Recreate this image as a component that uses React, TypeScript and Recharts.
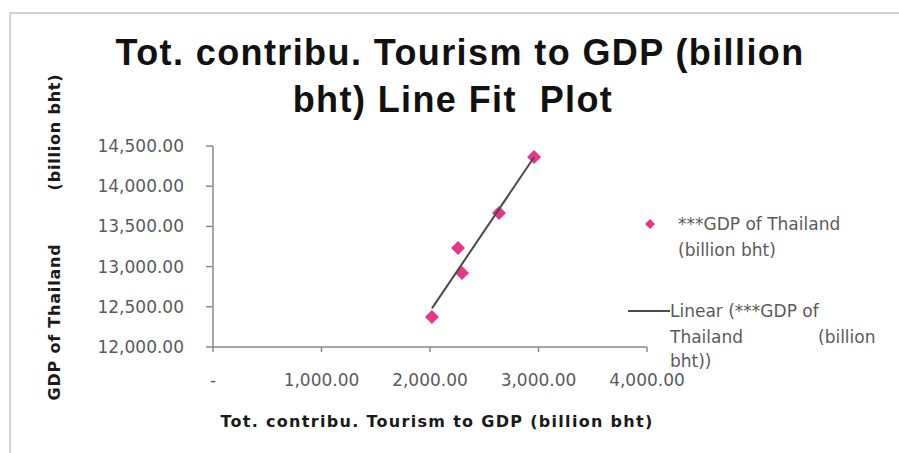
import React from "react";
import { ScatterChart, Scatter, XAxis, YAxis } from "recharts";

// Tourism contribution vs GDP, line fit plot.

const tourism = [2018, 2258, 2295, 2636, 2959];
const gdp = [12373, 13231, 12920, 13667, 14363];

// fitted line end points
const fitX = [2018, 2959];
const fitY = [12480, 14360];

const xTicks = [0, 1000, 2000, 3000, 4000];
const yTicks = [12000, 12500, 13000, 13500, 14000, 14500];

const PINK = "#E8378A";
const AXIS = "#8a8a8a";
const TEXT = "#5a5a5a";
const TICK_FONT = "DejaVu Sans";

const points = tourism.map((x, i) => ({ x, y: gdp[i] }));
const fit = fitX.map((x, i) => ({ x, y: fitY[i] }));

const fmt = (v: number) =>
  v === 0
    ? "-"
    : v.toLocaleString("en-US", {
        minimumFractionDigits: 2,
        maximumFractionDigits: 2,
      });

function Diamond(props: any) {
  const { cx, cy } = props;
  if (cx == null || cy == null) return null;
  const r = 7;
  return (
    <polygon
      points={`${cx},${cy - r} ${cx + r},${cy} ${cx},${cy + r} ${cx - r},${cy}`}
      fill={PINK}
    />
  );
}

export default function App() {
  return (
    <div
      style={{
        position: "absolute",
        left: 0,
        top: 0,
        width: 899,
        height: 453,
        background: "#fff",
        overflow: "hidden",
      }}
    >
      <div
        style={{
          position: "absolute",
          left: 9,
          top: 12,
          right: -4,
          bottom: -4,
          borderTop: "2px solid #d2d2d2",
          borderLeft: "2px solid #d2d2d2",
        }}
      />
      <ScatterChart
        width={899}
        height={453}
        margin={{ top: 146, right: 252, bottom: 46, left: 93 }}
        style={{ position: "absolute", left: 0, top: 0 }}
      >
        <XAxis
          type="number"
          dataKey="x"
          domain={[0, 4000]}
          ticks={xTicks}
          tickFormatter={fmt}
          height={60}
          stroke={AXIS}
          strokeWidth={1.5}
          tickSize={5}
          tickMargin={22}
          tick={{ fill: TEXT, fontSize: 17, fontFamily: TICK_FONT }}
          interval={0}
        />
        <YAxis
          type="number"
          dataKey="y"
          domain={[12000, 14500]}
          ticks={yTicks}
          tickFormatter={fmt}
          width={120}
          stroke={AXIS}
          strokeWidth={1.5}
          tickSize={7}
          tickMargin={22}
          tick={{ fill: TEXT, fontSize: 17, fontFamily: TICK_FONT }}
          interval={0}
        />
        <Scatter
          data={points}
          shape={<Diamond />}
          isAnimationActive={false}
        />
        <Scatter
          data={fit}
          line={{ stroke: "#4a4a4a", strokeWidth: 2 }}
          shape={() => null}
          isAnimationActive={false}
        />
      </ScatterChart>
      <svg
        width={899}
        height={453}
        style={{ position: "absolute", left: 0, top: 0, pointerEvents: "none" }}
      >
        <g
          fontFamily="Liberation Sans, Arial, sans-serif"
          fontWeight="bold"
          fontSize={36}
          letterSpacing={1.4}
          fill="#111"
          textAnchor="middle"
        >
          <text x={460} y={65}>Tot. contribu. Tourism to GDP (billion</text>
          <text x={453} y={112}>{"bht) Line Fit\u00A0 Plot"}</text>
        </g>
        <text
          x={437}
          y={427}
          textAnchor="middle"
          fontFamily={TICK_FONT}
          fontWeight="bold"
          fontSize={16}
          letterSpacing={1.3}
          fill="#1a1a1a"
        >
          Tot. contribu. Tourism to GDP (billion bht)
        </text>
        <g
          fontFamily={TICK_FONT}
          fontWeight="bold"
          fontSize={16}
          letterSpacing={0.8}
          fill="#1a1a1a"
          textAnchor="middle"
        >
          <text transform="translate(60,322) rotate(-90)">GDP of Thailand</text>
          <text transform="translate(60,132) rotate(-90)">(billion bht)</text>
        </g>
        <g fontFamily={TICK_FONT} fontSize={17} fill={TEXT}>
          <polygon points="650,219 655,224 650,229 645,224" fill={PINK} />
          <text x={678} y={230}>***GDP of Thailand</text>
          <text x={678} y={256}>(billion bht)</text>
          <line x1={628} y1={311} x2={670} y2={311} stroke="#4a4a4a" strokeWidth={2} />
          <text x={670} y={317}>Linear (***GDP of</text>
          <text x={670} y={343}>Thailand</text>
          <text x={818} y={343}>(billion</text>
          <text x={670} y={367}>bht))</text>
        </g>
      </svg>
    </div>
  );
}
